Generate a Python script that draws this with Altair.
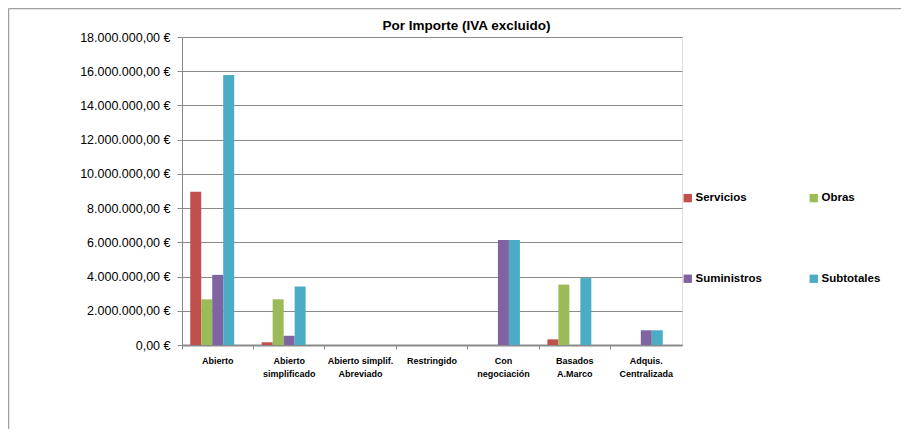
import altair as alt
import pandas as pd

categories = [
    "Abierto",
    "Abierto\nsimplificado",
    "Abierto simplif.\nAbreviado",
    "Restringido",
    "Con\nnegociación",
    "Basados\nA.Marco",
    "Adquis.\nCentralizada",
]
series = ["Servicios", "Obras", "Suministros", "Subtotales"]
colors = ["#C0504D", "#9BBB59", "#8064A2", "#4BACC6"]

servicios = [8950000, 160000, 0, 0, 0, 330000, 0]
obras = [2670000, 2670000, 0, 0, 0, 3530000, 0]
suministros = [4100000, 540000, 0, 0, 6130000, 0, 860000]
subtotales = [15780000, 3420000, 0, 0, 6130000, 3910000, 860000]
y_ticks = [0, 2000000, 4000000, 6000000, 8000000, 10000000, 12000000, 14000000, 16000000, 18000000]
title_text = "Por Importe (IVA excluido)"

rows = []
for s, vals in zip(series, [servicios, obras, suministros, subtotales]):
    for c, v in zip(categories, vals):
        rows.append({"category": c, "series": s, "value": v})
df = pd.DataFrame(rows)

FONT = "Liberation Sans"
GRID = "#8a8a8a"
W, H = 500, 308
PL, PT = 174, 29

bars = alt.Chart(df).transform_filter("datum.value > 0").mark_bar().encode(
    x=alt.X(
        "category:N",
        sort=categories,
        scale=alt.Scale(domain=categories, paddingInner=0, paddingOuter=0),
        axis=alt.Axis(
            title=None,
            labelAngle=0,
            labelExpr="split(datum.label, '\\n')",
            labelFont=FONT,
            labelFontSize=9,
            labelFontWeight="bold",
            labelColor="#000000",
            labelLineHeight=13.5,
            labelBaseline="top",
            labelPadding=7,
            bandPosition=0,
            tickSize=4,
            tickColor=GRID,
            domainColor=GRID,
            domainWidth=2,
            grid=False,
        ),
    ),
    xOffset=alt.XOffset(
        "series:N",
        scale=alt.Scale(domain=series + ["_"], paddingInner=0, paddingOuter=0.75),
    ),
    y=alt.Y(
        "value:Q",
        scale=alt.Scale(domain=[0, 18000000], nice=False),
        axis=alt.Axis(
            title=None,
            values=y_ticks,
            labelExpr="replace(replace(replace(format(datum.value, ',.2f'), regexp(',', 'g'), '_'), regexp('[.]', 'g'), ','), regexp('_', 'g'), '.') + ' €'",
            labelFont=FONT,
            labelFontSize=12.5,
            labelColor="#000000",
            labelPadding=7,
            tickSize=5,
            tickColor=GRID,
            domainColor=GRID,
            gridColor=GRID,
            gridWidth=1,
        ),
    ),
    color=alt.Color(
        "series:N",
        scale=alt.Scale(domain=series, range=colors),
        sort=series,
        legend=alt.Legend(
            title=None,
            orient="none",
            legendX=W,
            legendY=155,
            columns=2,
            direction="horizontal",
            symbolType="square",
            symbolSize=70,
            symbolStrokeWidth=0,
            symbolOffset=0,
            labelFont=FONT,
            labelFontSize=11.5,
            labelFontWeight="bold",
            labelColor="#000000",
            labelOffset=2,
            columnPadding=46,
            rowPadding=68,
        ),
    ),
)

title = alt.Chart(pd.DataFrame({"t": [title_text]})).mark_text(
    font=FONT, fontSize=13.5, fontWeight="bold", color="#000000", align="center", baseline="middle"
).encode(text="t:N", x=alt.value(284.5), y=alt.value(-11))

border = alt.Chart(pd.DataFrame({"a": [0]})).mark_rule(color="#a0a0a0", strokeWidth=1.5).encode(
    x=alt.value(-PL + 0.5),
    x2=alt.value(W + 300),
    y=alt.value(-PT + 0.5),
)
border_left = alt.Chart(pd.DataFrame({"a": [0]})).mark_rule(color="#a0a0a0", strokeWidth=1.5).encode(
    x=alt.value(-PL + 0.5),
    y=alt.value(-PT + 0.5),
    y2=alt.value(H + 200),
)

chart = alt.layer(border, border_left, bars, title).properties(
    width=W,
    height=H,
    autosize=alt.AutoSizeParams(type="none"),
    padding={"left": PL, "top": PT, "right": 893 - PL - W, "bottom": 421 - PT - H},
).configure_view(stroke=None).configure(background="white")

chart.save("out.html", embed_options={"renderer": "svg", "actions": False})
